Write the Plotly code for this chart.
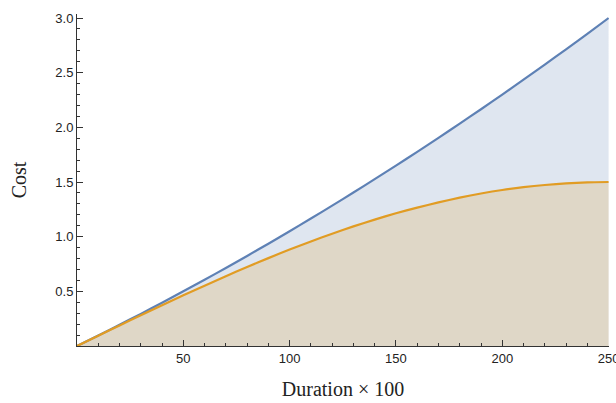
import plotly.graph_objects as go

# Duration (x100) sample points
duration = [0, 10, 20, 30, 40, 50, 60, 70, 80, 90, 100, 110, 120, 130, 140, 150,
            160, 170, 180, 190, 200, 210, 220, 230, 240, 250]
# Cost curves
cost_upper = [0.0, 0.096, 0.194, 0.294, 0.396, 0.5, 0.606, 0.714, 0.824, 0.936, 1.05,
              1.166, 1.284, 1.404, 1.526, 1.65, 1.776, 1.904, 2.034, 2.166, 2.3,
              2.436, 2.574, 2.714, 2.856, 3.0]
cost_lower = [0.0, 0.094, 0.188, 0.281, 0.373, 0.464, 0.552, 0.639, 0.723, 0.804, 0.882,
              0.956, 1.027, 1.094, 1.156, 1.214, 1.266, 1.314, 1.357, 1.395, 1.427,
              1.453, 1.473, 1.488, 1.497, 1.5]

y_ticks = [0.5, 1.0, 1.5, 2.0, 2.5, 3.0]
x_ticks = [50, 100, 150, 200, 250]

blue = "#5e81b5"
orange = "#e19c24"

fig = go.Figure()
fig.add_trace(go.Scatter(
    x=duration, y=cost_upper, mode="lines",
    line=dict(color=blue, width=2.2, shape="spline", smoothing=0.6),
    fill="tozeroy", fillcolor="rgba(94,129,181,0.2)",
    hoverinfo="skip", showlegend=False,
))
fig.add_trace(go.Scatter(
    x=duration, y=cost_lower, mode="lines",
    line=dict(color=orange, width=2.2, shape="spline", smoothing=0.6),
    fill="tozeroy", fillcolor="rgba(225,156,36,0.2)",
    hoverinfo="skip", showlegend=False,
))

axis_color = "#333333"
tick_font = dict(family="Liberation Sans, Arial, sans-serif", size=13, color="#222222")
title_font = dict(family="Liberation Serif, Times New Roman, serif", size=20, color="#222222")

fig.update_layout(
    width=616, height=403,
    margin=dict(l=77, r=7, t=14, b=57, autoexpand=False),
    paper_bgcolor="white", plot_bgcolor="white",
    xaxis=dict(
        range=[0, 250.2], automargin=False,
        tickvals=x_ticks, ticktext=[str(v) for v in x_ticks],
        ticks="inside", ticklen=6, tickcolor=axis_color, tickwidth=1,
        minor=dict(dtick=10, tick0=0, ticks="inside", ticklen=3, tickcolor=axis_color),
        showline=True, linecolor=axis_color, linewidth=1,
        showgrid=False, zeroline=False,
        tickfont=tick_font, ticklabeloverflow="allow",
        title=dict(text="Duration × 100", font=title_font, standoff=17),
    ),
    yaxis=dict(
        range=[0, 3.037], automargin=False,
        tickvals=y_ticks, ticktext=[f"{v:.1f}" for v in y_ticks],
        ticks="inside", ticklen=6, tickcolor=axis_color, tickwidth=1,
        minor=dict(dtick=0.1, tick0=0, ticks="inside", ticklen=3, tickcolor=axis_color),
        showline=True, linecolor=axis_color, linewidth=1,
        showgrid=False, zeroline=False,
        tickfont=tick_font, ticklabeloverflow="allow",
        title=dict(text="Cost", font=title_font, standoff=23),
    ),
)

fig.write_html("out.html")
